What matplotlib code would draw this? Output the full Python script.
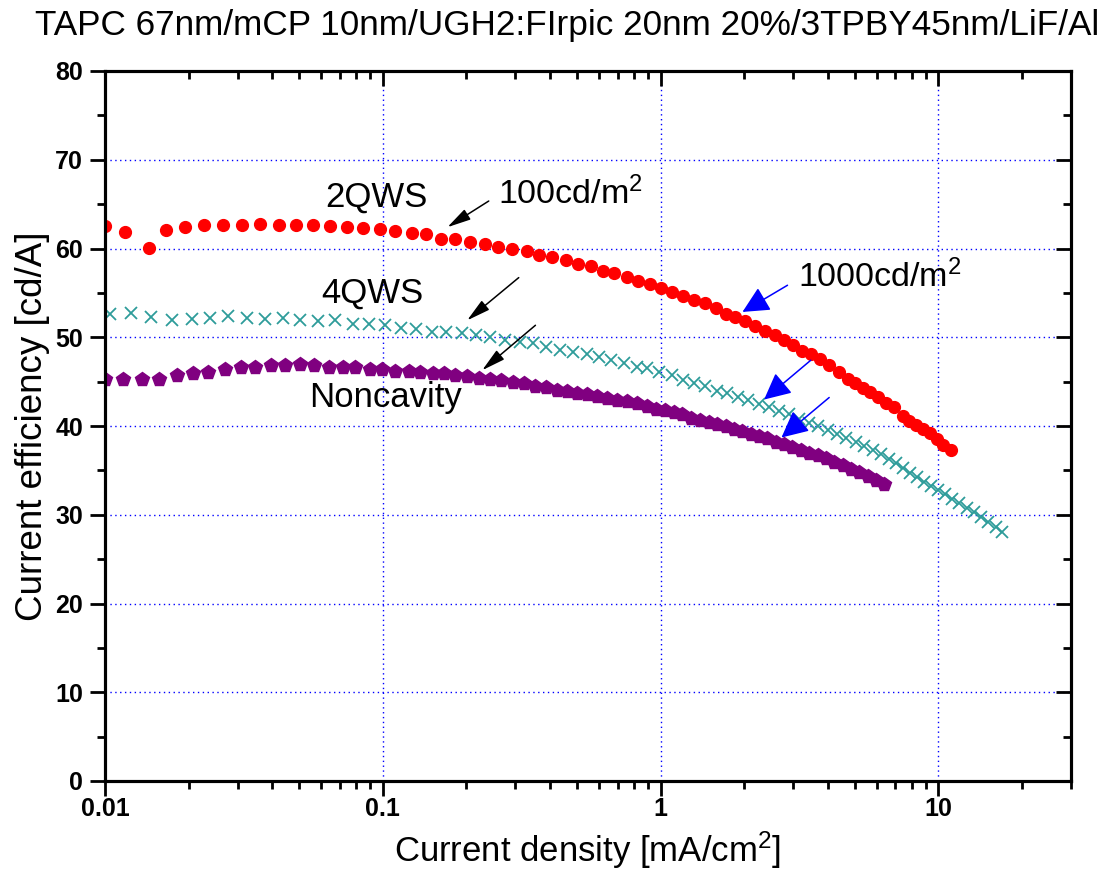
import numpy as np
import matplotlib
matplotlib.use("Agg")
import matplotlib.pyplot as plt
from matplotlib.ticker import LogLocator, FixedLocator, FixedFormatter, NullFormatter, MultipleLocator

plt.rcParams['font.family'] = ['Liberation Sans', 'DejaVu Sans']
plt.rcParams['mathtext.fontset'] = 'custom'
plt.rcParams['mathtext.rm'] = 'Liberation Sans'
plt.rcParams['mathtext.default'] = 'regular'

# 2QWS (red circles)
j_2qws = [0.0100, 0.0118, 0.01445, 0.0166, 0.0194, 0.0228, 0.0267, 0.0311, 0.0362, 0.0422,
          0.0488, 0.0560, 0.0647, 0.0743, 0.0849, 0.0973, 0.111, 0.127, 0.1435, 0.1626,
          0.1825, 0.2055, 0.233, 0.259, 0.292, 0.329, 0.364, 0.407, 0.455, 0.504,
          0.560, 0.622, 0.682, 0.754, 0.831, 0.915, 1.006, 1.101, 1.207, 1.318,
          1.444, 1.578, 1.718, 1.852, 2.013, 2.188, 2.376, 2.575, 2.783, 3.007,
          3.240, 3.49, 3.75, 4.04, 4.37, 4.71, 5.00, 5.33, 5.68, 6.07,
          6.49, 6.93, 7.43, 7.85, 8.30, 8.78, 9.34, 9.87, 10.4, 11.1]
ce_2qws = [62.5, 61.9, 60.1, 62.1, 62.4, 62.6, 62.7, 62.7, 62.8, 62.7,
           62.7, 62.6, 62.5, 62.4, 62.35, 62.2, 62.0, 61.7, 61.6, 61.1,
           61.1, 60.7, 60.5, 60.2, 59.9, 59.7, 59.3, 59.0, 58.7, 58.3,
           58.0, 57.5, 57.2, 56.8, 56.3, 56.0, 55.6, 55.1, 54.7, 54.2,
           53.9, 53.3, 52.6, 52.3, 51.8, 51.3, 50.7, 50.2, 49.7, 49.1,
           48.5, 48.1, 47.5, 46.9, 46.1, 45.3, 44.9, 44.3, 43.8, 43.3,
           42.6, 42.1, 41.1, 40.6, 40.1, 39.7, 39.2, 38.5, 37.9, 37.3]

# 4QWS (teal crosses)
j_4qws = [0.0104, 0.0124, 0.0147, 0.0174, 0.0205, 0.0239, 0.0278, 0.0324, 0.0377, 0.0437,
          0.0504, 0.0584, 0.0674, 0.0781, 0.0889, 0.102, 0.116, 0.132, 0.150, 0.169,
          0.192, 0.217, 0.244, 0.275, 0.311, 0.348, 0.388, 0.434, 0.485, 0.541,
          0.599, 0.664, 0.737, 0.819, 0.896, 0.986, 1.102, 1.207, 1.318, 1.444,
          1.591, 1.740, 1.899, 2.063, 2.261, 2.457, 2.669, 2.900, 3.151, 3.407,
          3.670, 3.988, 4.308, 4.642, 5.043, 5.403, 5.794, 6.207, 6.633, 7.029,
          7.449, 7.894, 8.365, 8.866, 9.396, 9.958, 10.55, 11.18, 11.88, 12.67,
          13.46, 14.23, 15.12, 16.12, 16.90]
ce_4qws = [52.6, 52.7, 52.3, 51.9, 52.1, 52.2, 52.4, 52.2, 52.1, 52.2,
           51.9, 51.8, 51.9, 51.5, 51.5, 51.35, 51.0, 50.9, 50.6, 50.6,
           50.5, 50.2, 50.0, 49.7, 49.5, 49.3, 48.9, 48.6, 48.3, 48.1,
           47.8, 47.4, 47.1, 46.7, 46.5, 46.1, 45.7, 45.2, 44.9, 44.5,
           44.0, 43.7, 43.3, 42.9, 42.5, 42.15, 41.7, 41.3, 40.8, 40.35,
           40.0, 39.5, 39.1, 38.6, 38.2, 37.7, 37.3, 36.8, 36.3, 35.8,
           35.25, 34.75, 34.2, 33.7, 33.2, 32.8, 32.3, 31.8, 31.3, 30.8,
           30.3, 29.8, 29.2, 28.6, 28.1]

# Noncavity (purple pentagons)
j_nc = [0.0100, 0.01158, 0.01356, 0.01569, 0.01813, 0.0208, 0.02357, 0.02706, 0.03091, 0.03471,
        0.03955, 0.04453, 0.05043, 0.05663, 0.06377, 0.07187, 0.07962, 0.08961, 0.09934, 0.1109,
        0.1239, 0.1357, 0.1517, 0.1665, 0.1825, 0.2011, 0.2214, 0.244, 0.2673, 0.2945,
        0.3235, 0.3543, 0.3882, 0.4219, 0.461, 0.5009, 0.5445, 0.5911, 0.6425, 0.6982,
        0.7586, 0.8243, 0.8903, 0.9593, 1.034, 1.117, 1.197, 1.290, 1.386, 1.493,
        1.601, 1.715, 1.837, 1.970, 2.110, 2.261, 2.424, 2.597, 2.782, 2.983,
        3.196, 3.423, 3.670, 3.932, 4.212, 4.516, 4.838, 5.183, 5.557, 5.954,
        6.346]
ce_nc = [45.35, 45.35, 45.25, 45.35, 45.8, 46.0, 46.1, 46.45, 46.7, 46.7,
         46.85, 46.85, 46.95, 46.85, 46.7, 46.65, 46.6, 46.45, 46.45, 46.25,
         46.2, 46.1, 46.0, 45.95, 45.7, 45.6, 45.45, 45.3, 45.2, 44.95,
         44.8, 44.55, 44.35, 44.1, 43.95, 43.75, 43.6, 43.35, 43.15, 42.95,
         42.8, 42.55, 42.25, 41.95, 41.8, 41.6, 41.35, 40.95, 40.65, 40.45,
         40.2, 40.0, 39.7, 39.45, 39.15, 38.85, 38.6, 38.2, 37.95, 37.65,
         37.35, 37.0, 36.7, 36.35, 35.95, 35.6, 35.2, 34.8, 34.35, 33.9,
         33.45]

x_ticks = [0.01, 0.1, 1, 10]
x_tick_labels = ['0.01', '0.1', '1', '10']
title = 'TAPC 67nm/mCP 10nm/UGH2:FIrpic 20nm 20%/3TPBY45nm/LiF/Al'

# labels and arrows (text position, arrow tail, arrow tip) in data units
series_labels = [('2QWS', 0.0948, 65.8), ('4QWS', 0.0917, 54.95), ('Noncavity', 0.102, 43.2)]
lum_labels = [('100cd/m$^2$', 0.2607, 66.2), ('1000cd/m$^2$', 3.117, 56.8)]
black_arrows = [((0.2406, 65.35), (0.1708, 62.4)),
                ((0.3085, 56.72), (0.2011, 51.9)),
                ((0.3543, 51.35), (0.2278, 46.28))]
blue_arrows = [((2.862, 55.86), (1.970, 52.85)),
               ((3.471, 47.41), (2.357, 42.98)),
               ((4.043, 43.21), (2.722, 38.70))]

fig = plt.figure(figsize=(11.11, 8.89), dpi=100)
ax = fig.add_axes([105 / 1111, 1 - 781 / 889, (1071 - 105) / 1111, (781 - 71) / 889])

ax.plot(j_2qws, ce_2qws, 'o', color='#FF0000', ms=8.5, mec='#FF0000', zorder=3)
ax.plot(j_4qws, ce_4qws, 'x', color='#2E9C9A', ms=9, mew=1.3, zorder=3)
ax.plot(j_nc, ce_nc, 'p', color='#800080', ms=10, mec='#800080', zorder=3)

ax.set_xscale('log')
ax.set_xlim(0.01, 30)
ax.set_ylim(0, 80)

ax.xaxis.set_major_locator(FixedLocator(x_ticks))
ax.xaxis.set_major_formatter(FixedFormatter(x_tick_labels))
ax.xaxis.set_minor_locator(LogLocator(base=10, subs=np.arange(2, 10)))
ax.xaxis.set_minor_formatter(NullFormatter())
ax.yaxis.set_major_locator(MultipleLocator(10))
ax.yaxis.set_minor_locator(MultipleLocator(5))

ax.grid(True, which='major', color='#0000FF', linestyle=(0, (1, 2.5)), linewidth=1.0, zorder=0)
ax.set_axisbelow(True)

for s in ax.spines.values():
    s.set_linewidth(2.2)
ax.tick_params(which='major', direction='out', length=10.8, width=2.0, top=False, right=False)
ax.tick_params(which='minor', direction='out', length=5.8, width=2.0, top=False, right=False)
ax.tick_params(axis='x', which='major', pad=1)
ax.tick_params(axis='y', which='major', pad=5)
for lab in ax.get_xticklabels() + ax.get_yticklabels():
    lab.set_fontsize(18)
    lab.set_fontweight('bold')

# top and right axes: ticks pointing inward, no labels
axt = ax.twiny()
axt.set_xscale('log')
axt.set_xlim(ax.get_xlim())
axt.xaxis.set_major_locator(FixedLocator(x_ticks))
axt.xaxis.set_minor_locator(LogLocator(base=10, subs=np.arange(2, 10)))
axt.xaxis.set_minor_formatter(NullFormatter())
axt.tick_params(which='major', direction='in', length=10.8, width=2.0, labeltop=False)
axt.tick_params(which='minor', direction='in', length=5.8, width=2.0, labeltop=False)
axr = ax.twinx()
axr.set_ylim(ax.get_ylim())
axr.yaxis.set_major_locator(MultipleLocator(10))
axr.yaxis.set_minor_locator(MultipleLocator(5))
axr.tick_params(which='major', direction='in', length=10.8, width=2.0, labelright=False)
axr.tick_params(which='minor', direction='in', length=5.8, width=2.0, labelright=False)
for a in (axt, axr):
    for s in a.spines.values():
        s.set_linewidth(2.2)

ax.set_xlabel('Current density [mA/cm$^2$]', fontsize=25, labelpad=6)
ax.set_ylabel('Current efficiency [cd/A]', fontsize=26.5, labelpad=4)

fig.text(35 / 1111, 1 - 35 / 889, title, fontsize=25.3, ha='left', va='baseline')

for txt, x, y in series_labels:
    ax.text(x, y, txt, fontsize=25, ha='center', va='center')
for txt, x, y in lum_labels:
    ax.text(x, y, txt, fontsize=24.5, ha='left', va='center')

for tail, tip in black_arrows:
    ax.annotate('', xy=tip, xytext=tail,
                arrowprops=dict(arrowstyle='-|>,head_length=0.72,head_width=0.18',
                                color='black', lw=1.1, mutation_scale=20,
                                shrinkA=0, shrinkB=0))
for tail, tip in blue_arrows:
    ax.annotate('', xy=tip, xytext=tail,
                arrowprops=dict(arrowstyle='-|>,head_length=0.55,head_width=0.27',
                                color='#0000FF', lw=1.1, mutation_scale=30,
                                shrinkA=0, shrinkB=0), zorder=4)

fig.savefig('out.png', dpi=100)
